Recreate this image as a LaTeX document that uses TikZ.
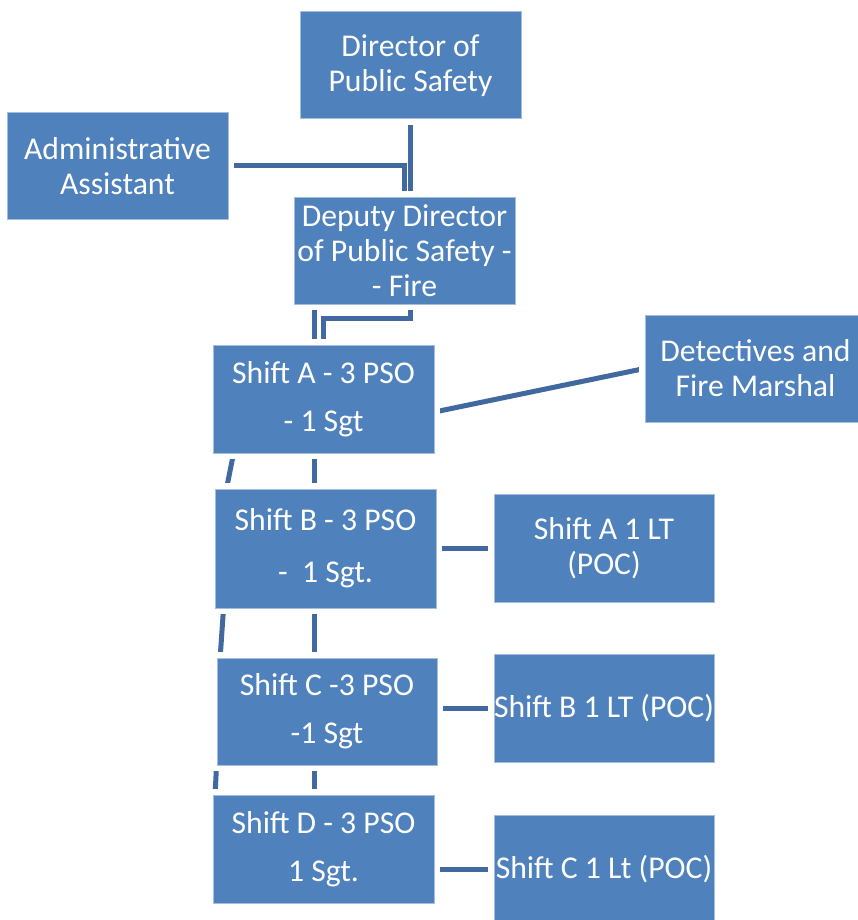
\documentclass[tikz,border=0pt]{standalone}
\usepackage{fontspec}
\setmainfont{Carlito}
\usetikzlibrary{calc}
\pgfdeclarelayer{bg}
\pgfsetlayers{bg,main}
\definecolor{boxblue}{HTML}{4F81BD}
\definecolor{linkblue}{HTML}{41699F}
\definecolor{edgeblue}{HTML}{A6BEDD}
\begin{document}
\begin{tikzpicture}[x=1pt,y=-1pt,
  box/.style={rectangle, fill=boxblue, draw=edgeblue, line width=1pt,
    preaction={draw=white, line width=12pt},
    text=white, align=center, inner sep=0pt,
    minimum width=221pt, minimum height=107pt,
    font=\fontsize{31.7}{35}\selectfont},
  shiftbox/.style={box, font=\fontsize{31.7}{48}\selectfont},
  link/.style={draw=linkblue, line width=5pt}]
\useasboundingbox (0,0) rectangle (858,920);
\clip (0,0) rectangle (858,920);

\node[box] (dir) at (410.5,65.5) {Director of\\Public Safety};
\node[box] (admin) at (117.5,166) {Administrative\\Assistant};
\node[box] (dep) at (404.5,250.5) {Deputy Director\\of Public Safety -\\- Fire};
\node[shiftbox, minimum height=108pt] (sA) at (323.5,399) {Shift A - 3 PSO\\- 1 Sgt};
\node[box] (det) at (755.5,368.5) {Detectives and\\Fire Marshal};
\node[shiftbox, minimum height=119pt, font=\fontsize{31.7}{52}\selectfont] (sB) at (325.5,548.5) {Shift B - 3 PSO\\-\ \ 1 Sgt.};
\node[box, minimum width=220pt, minimum height=108pt] (A1) at (604,548) {Shift A 1 LT\\(POC)};
\node[shiftbox, minimum width=220pt] (sC) at (327,711.5) {Shift C -3 PSO\\-1 Sgt};
\node[box, minimum width=220pt, minimum height=108pt] (B1) at (604,708) {\makebox[220pt]{Shift B 1 LT (POC)}};
\node[shiftbox, minimum height=108pt] (sD) at (323.5,849) {Shift D - 3 PSO\\1 Sgt.};
\node[box, minimum width=220pt, minimum height=108pt] (C1) at (604,869) {\makebox[220pt]{Shift C 1 Lt (POC)}};

\coordinate (vx) at (314,0);
\begin{pgfonlayer}{bg}
\draw[link] (dir.south) -- (dir.south |- dep.north);
\draw[link] (admin.east) -| (dep.north);
\draw[link] (dir.south |- dep.south) -- ++(0,14) -| (sA.north);
\draw[link] (vx |- dep.south) -- (vx |- sD.north);
\draw[link] ($(sA.south west)+(21,0)$) -- (sB.west);
\draw[link] ($(sB.south west)+(9,0)$) -- (sC.west);
\draw[link] (sC.south west) -- (sD.west);
\draw[link] ($(sA.east)+(0,13)$) -- (det.west);
\draw[link] (A1.west) -- (A1.west -| sB.east);
\draw[link] (B1.west) -- (B1.west -| sC.east);
\draw[link] (C1.west) -- (C1.west -| sD.east);
\end{pgfonlayer}
\end{tikzpicture}
\end{document}
